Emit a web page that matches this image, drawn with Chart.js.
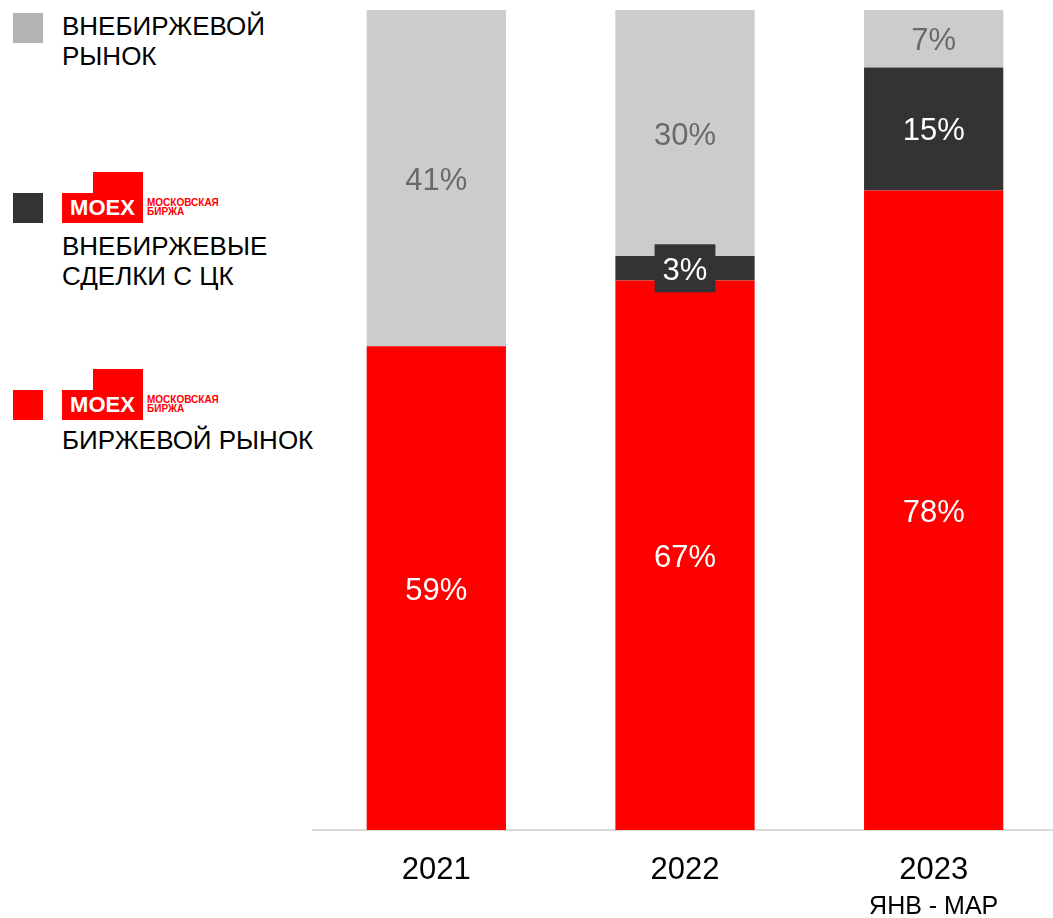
<!DOCTYPE html>
<html>
<head>
<meta charset="utf-8">
<script src="https://cdn.jsdelivr.net/npm/chart.js@4"></script>
<style>
  body { margin: 0; background: #fff; width: 1053px; height: 918px; overflow: hidden; position: relative; font-family: "Liberation Sans", Arial, sans-serif; }
  #wrap { position: absolute; left: 312px; top: 0; width: 746px; height: 918px; }
  .sq { position: absolute; left: 13px; width: 30px; height: 30px; }
  .txt { position: absolute; left: 62px; font-size: 26px; line-height: 30px; color: #000; }
  .logo { position: absolute; left: 62px; width: 165px; height: 52px; }
  .logo .tab { position: absolute; left: 31px; top: 0; width: 50px; height: 22px; background: #ff0000; }
  .logo .blk { position: absolute; left: 0; top: 21px; width: 81px; height: 30px; background: #ff0000; color: #fff; font-weight: bold; font-size: 22px; line-height: 30px; text-align: center; }
  .logo .nm { position: absolute; left: 85px; top: 26px; color: #ff0000; font-weight: bold; font-size: 10px; line-height: 9px; }
</style>
</head>
<body>
<div class="sq" style="top:13px;background:#b4b4b4"></div>
<div class="txt" style="top:11px">ВНЕБИРЖЕВОЙ<br>РЫНОК</div>

<div class="logo" style="top:172px"><div class="tab"></div><div class="blk">MOEX</div><div class="nm">МОСКОВСКАЯ<br>БИРЖА</div></div>
<div class="sq" style="top:193px;background:#333333"></div>
<div class="txt" style="top:231px">ВНЕБИРЖЕВЫЕ<br>СДЕЛКИ С ЦК</div>

<div class="logo" style="top:369px"><div class="tab"></div><div class="blk">MOEX</div><div class="nm">МОСКОВСКАЯ<br>БИРЖА</div></div>
<div class="sq" style="top:390px;background:#ff0000"></div>
<div class="txt" style="top:425px">БИРЖЕВОЙ РЫНОК</div>

<div id="wrap"><canvas id="chart"></canvas></div>
<script>
const years = ['2021', '2022', '2023'];
const yearNotes = ['', '', 'ЯНВ - МАР'];
const exchange = [59, 67, 78];
const otcCcp = [0, 3, 15];
const otc = [41, 30, 7];

const labelColors = ['#ffffff', '#ffffff', '#6a6a6a'];

// percentages inside each segment
const segLabels = {
  id: 'segLabels',
  afterDatasetsDraw(chart) {
    const ctx = chart.ctx;
    ctx.save();
    ctx.font = '31px "Liberation Sans", Arial, sans-serif';
    ctx.textAlign = 'center';
    ctx.textBaseline = 'middle';
    chart.data.datasets.forEach((ds, i) => {
      const meta = chart.getDatasetMeta(i);
      meta.data.forEach((bar, j) => {
        const v = ds.data[j];
        if (!v) return;
        const y = (bar.y + bar.base) / 2;
        const txt = v + '%';
        if (Math.abs(bar.base - bar.y) < 36) {
          const w = ctx.measureText(txt).width + 16;
          ctx.fillStyle = ds.backgroundColor;
          ctx.fillRect(bar.x - w / 2, y - 24, w, 48);
        }
        ctx.fillStyle = labelColors[i];
        ctx.fillText(txt, bar.x, y + 3);
      });
    });
    ctx.restore();
  }
};

// second line under the last year
const notes = {
  id: 'notes',
  afterDraw(chart) {
    const ctx = chart.ctx;
    const xs = chart.scales.x;
    ctx.save();
    ctx.font = '25px "Liberation Sans", Arial, sans-serif';
    ctx.fillStyle = '#000';
    ctx.textAlign = 'center';
    ctx.textBaseline = 'middle';
    yearNotes.forEach((n, i) => {
      if (n) ctx.fillText(n, xs.getPixelForValue(i), 907);
    });
    ctx.restore();
  }
};

new Chart(document.getElementById('chart'), {
  type: 'bar',
  data: {
    labels: years,
    datasets: [
      { label: 'БИРЖЕВОЙ РЫНОК', data: exchange, backgroundColor: '#ff0000' },
      { label: 'ВНЕБИРЖЕВЫЕ СДЕЛКИ С ЦК', data: otcCcp, backgroundColor: '#333333' },
      { label: 'ВНЕБИРЖЕВОЙ РЫНОК', data: otc, backgroundColor: '#cccccc' }
    ]
  },
  options: {
    responsive: true,
    maintainAspectRatio: false,
    animation: false,
    datasets: { bar: { barPercentage: 0.56, categoryPercentage: 1 } },
    layout: { padding: { top: 10, left: 0, right: 0, bottom: 0 } },
    scales: {
      x: {
        stacked: true,
        grid: { display: false },
        border: { color: '#d9d9d9', width: 2 },
        ticks: { color: '#000', font: { size: 31, family: '"Liberation Sans", Arial, sans-serif' }, padding: 14 },
        afterFit(scale) { scale.height = 88; }
      },
      y: { stacked: true, display: false, min: 0, max: 100 }
    },
    plugins: { legend: { display: false }, tooltip: { enabled: false } }
  },
  plugins: [segLabels, notes]
});
</script>
</body>
</html>
